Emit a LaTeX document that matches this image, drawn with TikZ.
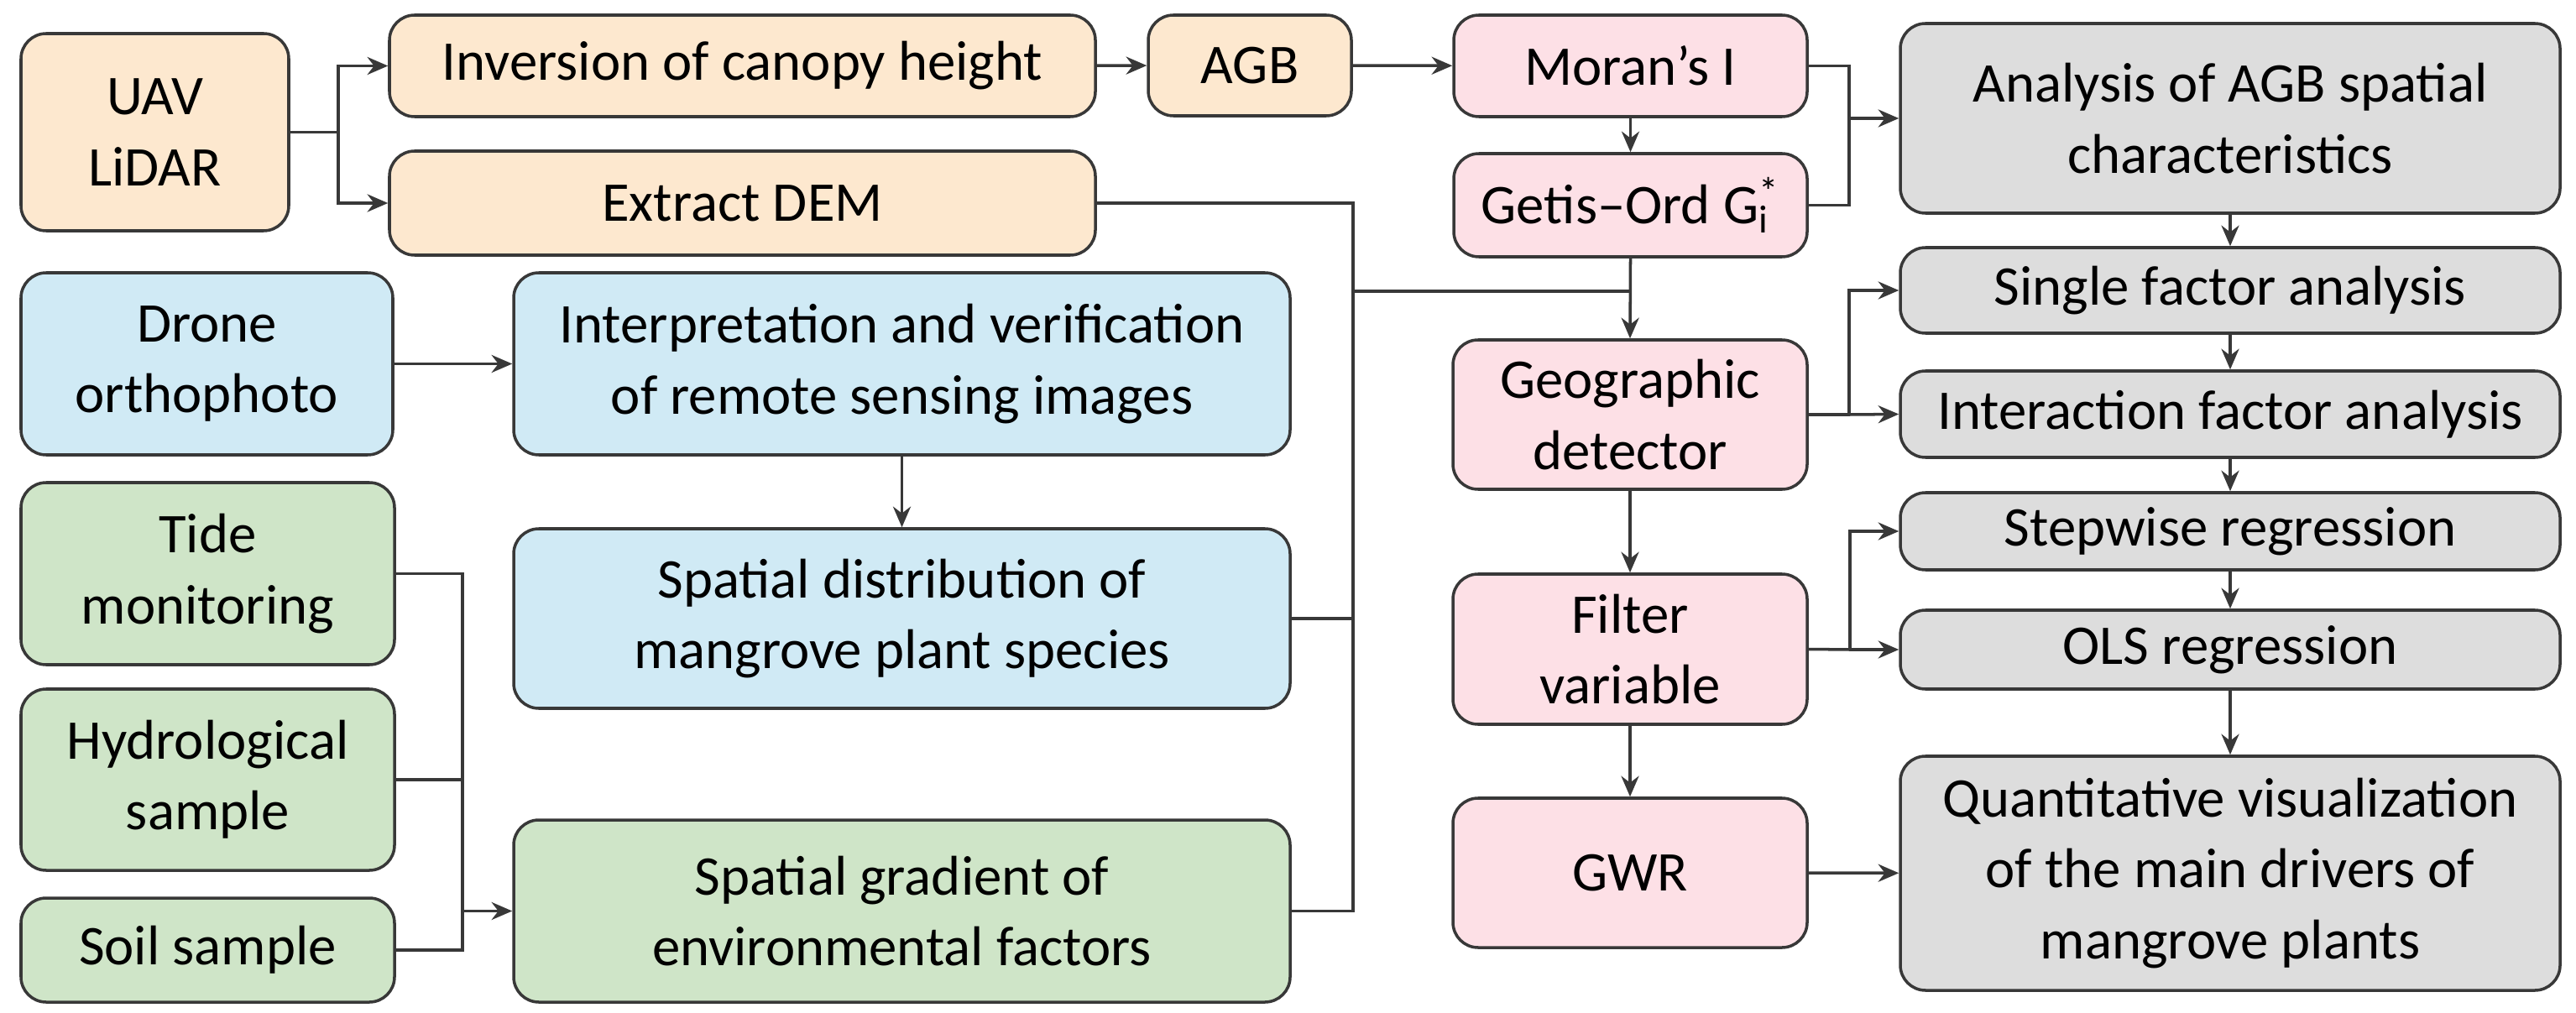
\documentclass[tikz,border=0pt]{standalone}
\usepackage{fontspec}
\setmainfont{Carlito}
\usetikzlibrary{arrows.meta}
\definecolor{cOr}{HTML}{FDE8CF}
\definecolor{cBl}{HTML}{D0EAF5}
\definecolor{cGr}{HTML}{CFE5C8}
\definecolor{cPk}{HTML}{FDE0E6}
\definecolor{cGy}{HTML}{DDDDDD}
\definecolor{cLn}{HTML}{383838}
\begin{document}
\begin{tikzpicture}[
  box/.style={draw=cLn, line width=1pt, rounded corners=0.3cm, align=center, inner sep=2pt,
    font=\fontsize{19}{24}\selectfont, text=black},
  ln/.style={draw=cLn, line width=1pt},
  ar/.style={ln, -{Stealth[length=7pt,width=6pt]}}
]
\useasboundingbox (0,0) rectangle (30.69,-12.07);
\newcommand{\bx}[7]{\node[box, fill=#1, minimum width=#4cm, minimum height=#5cm] (#6) at (#2,-#3) {#7};}
\bx{cOr}{1.845}{1.575}{3.19}{2.35}{uav}{UAV\\LiDAR}
\bx{cOr}{8.845}{0.785}{8.41}{1.21}{inv}{Inversion of canopy height}
\bx{cOr}{8.845}{2.42}{8.41}{1.24}{dem}{Extract DEM}
\bx{cOr}{14.89}{0.78}{2.42}{1.20}{agb}{AGB}
\bx{cPk}{19.425}{0.785}{4.21}{1.21}{moran}{Moran's I}
\bx{cPk}{19.425}{2.445}{4.21}{1.23}{getis}{Getis–Ord G\rlap{\textsubscript{i}}\textsuperscript{*}}
\bx{cGy}{26.57}{1.41}{7.86}{2.26}{anal}{Analysis of AGB spatial\\characteristics}
\bx{cBl}{2.465}{4.335}{4.43}{2.17}{drone}{Drone\\orthophoto}
\bx{cBl}{10.745}{4.335}{9.25}{2.17}{interp}{Interpretation and verification\\of remote sensing images}
\bx{cPk}{19.42}{4.94}{4.22}{1.78}{geo}{Geographic\\detector}
\bx{cGy}{26.57}{3.46}{7.86}{1.02}{single}{Single factor analysis}
\bx{cGy}{26.57}{4.935}{7.86}{1.03}{inter}{Interaction factor analysis}
\bx{cGr}{2.475}{6.835}{4.45}{2.17}{tide}{Tide\\monitoring}
\bx{cBl}{10.745}{7.37}{9.25}{2.14}{sdist}{Spatial distribution of\\mangrove plant species}
\bx{cGy}{26.57}{6.33}{7.86}{0.92}{step}{Stepwise regression}
\bx{cPk}{19.42}{7.735}{4.22}{1.79}{filter}{Filter\\variable}
\bx{cGy}{26.57}{7.74}{7.86}{0.94}{ols}{OLS regression}
\bx{cGr}{2.475}{9.29}{4.45}{2.16}{hydro}{Hydrological\\sample}
\bx{cPk}{19.42}{10.40}{4.22}{1.78}{gwr}{GWR}
\bx{cGy}{26.57}{10.405}{7.86}{2.79}{quant}{Quantitative visualization\\of the main drivers of\\mangrove plants}
\bx{cGr}{2.475}{11.32}{4.45}{1.24}{soil}{Soil sample}
\bx{cGr}{10.745}{10.855}{9.25}{2.17}{grad}{Spatial gradient of\\environmental factors}
% UAV split
\coordinate (j1) at (4.03,-1.575);
\draw[ln] (uav.east) -- (j1);
\draw[ar] (j1) |- (inv.west);
\draw[ar] (j1) |- (dem.west);
\draw[ar] (inv) -- (agb);
\draw[ar] (agb) -- (moran);
\draw[ar] (moran) -- (getis);
% to analysis
\coordinate (jA) at (22.03,-1.41);
\draw[ln] (moran.east) -| (jA) |- (getis.east);
\draw[ar] (jA) -- (anal.west);
% bus to geographic detector
\coordinate (bus) at (16.12,-10.855);
\coordinate (jb) at (16.12,-3.47);
\draw[ln] (dem.east) -| (bus) -- (grad.east);
\draw[ln] (sdist.east) -- (sdist.east -| bus);
\draw[ln] (jb) -- (jb -| geo.north);
\draw[ar] (getis.south) -- (geo.north);
\draw[ar] (drone) -- (interp);
\draw[ar] (interp) -- (sdist);
% field data bus
\coordinate (jt) at (5.51,-11.32);
\draw[ln] (tide.east) -| (jt) -- (soil.east);
\draw[ln] (hydro.east) -- (hydro.east -| jt);
\draw[ar] (grad.west -| jt) -- (grad.west);
% gray column
\draw[ar] (anal) -- (single);
\draw[ar] (single) -- (inter);
\draw[ar] (inter) -- (step);
\draw[ar] (step) -- (ols);
\draw[ar] (ols) -- (quant);
\coordinate (jg) at (22.03,-4.94);
\draw[ln] (geo.east) -- (jg);
\draw[ar] (jg) |- (single.west);
\draw[ar] (jg) -- (inter.west);
\coordinate (jf) at (22.04,-7.74);
\draw[ln] (filter.east) -- (jf);
\draw[ar] (jf) |- (step.west);
\draw[ar] (jf) -- (ols.west);
\draw[ar] (geo) -- (filter);
\draw[ar] (filter) -- (gwr);
\draw[ar] (gwr) -- (quant);
\end{tikzpicture}
\end{document}
